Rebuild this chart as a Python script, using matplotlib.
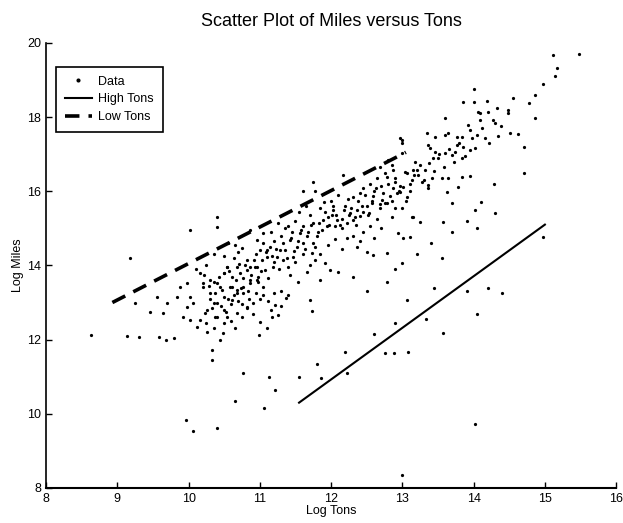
import numpy as np
import matplotlib.pyplot as plt

plt.rcParams['font.family'] = ['Liberation Sans', 'DejaVu Sans']

# scatter data (log tons, log miles)
tons = [
    8.63, 9.13, 9.30, 9.58, 9.68, 9.80, 9.18, 10.02, 10.40, 10.40,
    9.25, 9.46, 9.56, 9.64, 9.70, 9.84, 9.88, 9.92, 9.98, 9.98,
    10.02, 10.02, 10.06, 10.12, 10.16, 10.16, 10.20, 10.20, 10.26, 10.30,
    10.35, 10.35, 10.40, 10.40, 10.49, 10.49, 10.49, 10.54, 10.58, 10.61,
    10.61, 10.63, 10.68, 10.68, 10.68, 10.75, 10.77, 10.77, 10.82, 10.82,
    10.86, 10.86, 10.86, 10.96, 10.96, 10.96, 11.00, 11.05, 11.05, 11.10,
    10.21, 10.30, 10.37, 10.44, 10.49, 10.54, 10.61, 10.68, 10.72, 10.77,
    10.82, 10.86, 10.93, 10.98, 11.03, 11.07, 11.10, 11.14, 11.19, 11.24,
    11.28, 11.33, 11.35, 11.40, 11.42, 11.47, 11.52, 11.56, 11.61, 11.66,
    11.73, 11.75, 11.80, 11.82, 11.89, 11.94, 12.01, 12.03, 12.08, 12.15,
    12.22, 12.27, 12.31, 12.36, 12.41, 12.45, 12.52, 12.50, 12.57, 12.59,
    12.69, 12.71, 12.78, 12.83, 12.87, 12.92, 12.97, 13.04, 13.13, 13.20,
    12.94, 13.01, 13.11, 13.15, 12.79, 12.99, 12.79, 12.59, 12.50, 12.36,
    12.22, 12.10, 11.99, 11.85, 11.92, 11.78, 11.66, 11.54, 11.42, 11.75,
    11.61, 11.78, 12.17, 12.97, 13.00, 10.30, 10.40, 10.45, 10.55, 10.60,
    10.70, 10.75, 10.85, 10.90, 10.95, 11.00, 11.05, 11.12, 11.20, 11.30,
    11.40, 10.50, 10.60, 10.65, 10.35, 10.25, 10.90, 11.15, 11.30, 10.23,
    10.37, 10.54, 10.75, 10.82, 11.00, 11.10, 10.99, 11.17, 11.26, 11.21,
    11.37, 10.48, 10.44, 10.33, 10.33, 10.26, 11.70, 11.73, 9.96, 10.06,
    10.40, 10.65, 11.06, 11.21, 11.13, 10.77, 11.55, 11.80, 11.86, 12.20,
    12.22, 12.60, 12.76, 12.88, 12.90, 13.07, 13.08, 13.33, 13.45, 13.57,
    13.00, 14.02, 11.50, 11.55, 11.65, 11.70, 11.85, 11.90, 12.00, 12.10,
    12.20, 12.30, 12.40, 12.45, 12.55, 12.60, 12.65, 12.70, 12.75, 11.45,
    11.60, 11.75, 11.95, 12.05, 12.15, 12.25, 12.35, 12.45, 12.55, 12.65,
    11.30, 11.20, 11.15, 11.35, 11.25, 11.05, 10.95, 11.20, 11.40, 11.50,
    11.60, 11.70, 11.85, 11.95, 12.05, 12.15, 12.30, 12.40, 12.60, 12.70,
    12.85, 12.90, 13.05, 13.10, 10.10, 10.25, 10.35, 10.50, 10.65, 10.70,
    10.55, 12.50, 12.30, 12.90, 13.20, 13.40, 13.55, 13.70, 13.90, 14.10,
    14.30, 13.90, 14.05, 14.20, 14.40, 14.98, 12.69, 13.00, 13.00, 13.18,
    12.80, 12.86, 12.87, 12.79, 12.90, 13.07, 13.15, 13.22, 13.32, 13.28,
    13.36, 13.42, 13.36, 13.56, 13.64, 13.84, 13.95, 13.78, 13.63, 13.70,
    12.97, 13.01, 13.07, 13.00, 12.76, 13.14, 13.25, 13.57, 14.02, 14.05,
    13.35, 13.46, 13.60, 13.64, 13.77, 13.84, 13.77, 13.85, 13.98, 14.05,
    14.16, 13.95, 14.02, 13.74, 13.84, 13.39, 13.46, 13.36, 13.50, 13.60,
    13.70, 13.43, 13.60, 13.92, 13.85, 14.00, 14.00, 14.06, 14.09, 14.09,
    14.20, 14.19, 14.33, 14.27, 14.30, 14.34, 14.29, 14.51, 14.62, 14.71,
    14.71, 14.48, 14.48, 14.55, 14.86, 14.78, 14.86, 14.98, 15.14, 15.17,
    15.12, 15.48,
    # dense core of the band
    10.28, 10.33, 10.42, 10.47, 10.52, 10.57, 10.63, 10.66, 10.71, 10.74,
    10.79, 10.84, 10.88, 10.92, 10.97, 11.02, 11.08, 11.12, 11.17, 11.22,
    11.27, 11.32, 11.38, 11.44, 11.48, 11.53, 11.58, 11.63, 11.68, 11.72,
    11.77, 11.83, 11.87, 11.92, 11.97, 12.02, 12.07, 12.12, 12.18, 12.23,
    12.28, 12.33, 12.38, 12.43, 12.48, 12.53, 12.58, 12.63, 12.68, 12.73,
    12.80, 12.85, 12.90, 12.95, 13.10, 13.17, 13.25, 13.30, 13.38, 13.45,
    13.52, 13.58, 13.65, 13.72, 13.80, 13.88, 13.95, 14.12, 14.22, 14.38,
]
miles = [
    12.12, 12.10, 12.07, 12.08, 12.00, 12.05, 14.20, 14.96, 15.31, 15.04,
    12.99, 12.75, 13.15, 12.72, 12.99, 13.15, 13.42, 12.61, 12.88, 13.53,
    13.15, 12.53, 12.99, 12.34, 12.53, 13.80, 13.42, 13.53, 12.80, 13.26,
    12.99, 13.56, 12.61, 13.53, 13.80, 13.15, 12.80, 13.97, 13.42, 13.70,
    13.07, 14.20, 13.97, 13.34, 12.72, 14.47, 13.67, 13.26, 14.15, 12.88,
    14.96, 13.97, 13.53, 14.69, 13.97, 13.61, 14.42, 14.88, 13.42, 14.42,
    13.75, 13.61, 13.25, 13.43, 13.79, 13.97, 13.43, 13.25, 13.79, 13.43,
    13.88, 13.61, 13.97, 13.70, 14.15, 13.88, 14.24, 14.51, 13.97, 14.24,
    14.42, 14.15, 14.42, 15.05, 14.69, 14.24, 14.51, 14.87, 14.60, 14.78,
    14.33, 14.60, 14.78, 14.91, 15.23, 15.05, 15.36, 15.50, 15.23, 15.00,
    15.14, 15.41, 15.23, 15.50, 15.32, 15.45, 15.36, 15.59, 15.68, 15.86,
    15.54, 15.77, 15.68, 15.86, 16.08, 15.95, 16.13, 16.53, 16.31, 16.58,
    14.88, 14.74, 14.77, 15.31, 14.34, 14.07, 13.56, 14.29, 14.37, 14.50,
    14.74, 13.83, 13.88, 13.61, 14.07, 14.15, 13.83, 13.56, 13.75, 16.25,
    16.00, 16.00, 16.44, 17.44, 17.30, 13.10, 13.00, 12.90, 13.10, 12.95,
    13.05, 12.95, 13.10, 13.00, 13.25, 13.10, 13.20, 13.05, 13.25, 13.30,
    13.20, 12.45, 12.50, 12.30, 12.30, 12.45, 12.70, 12.80, 12.90, 12.72,
    12.62, 12.62, 12.60, 12.86, 12.48, 12.32, 12.13, 12.60, 12.67, 12.94,
    13.13, 12.18, 12.00, 11.73, 11.46, 12.20, 13.07, 12.78, 9.84, 9.54,
    9.62, 10.35, 10.16, 10.65, 11.00, 11.10, 11.00, 11.35, 10.97, 11.67,
    11.10, 12.16, 11.64, 11.64, 12.45, 13.07, 11.67, 12.56, 13.40, 12.18,
    8.36, 9.73, 15.20, 15.45, 15.60, 15.35, 15.55, 15.70, 15.75, 15.90,
    15.60, 15.85, 15.95, 16.10, 16.20, 16.00, 16.35, 16.15, 16.50, 14.90,
    15.05, 15.15, 15.30, 15.05, 15.25, 15.35, 15.10, 14.90, 15.05, 15.25,
    14.80, 14.65, 14.90, 15.00, 15.15, 14.60, 14.30, 14.10, 13.95, 14.10,
    14.30, 14.00, 14.30, 14.55, 14.70, 14.45, 14.80, 14.65, 14.75, 15.00,
    15.30, 15.55, 15.75, 16.00, 13.90, 14.00, 14.30, 14.25, 14.55, 14.35,
    14.60, 13.30, 13.70, 13.90, 14.30, 14.60, 14.20, 14.90, 15.20, 15.70,
    15.40, 13.30, 12.70, 13.40, 13.25, 14.77, 16.66, 17.39, 17.03, 16.79,
    16.85, 16.71, 16.58, 16.39, 16.25, 16.50, 16.58, 16.44, 16.58, 16.25,
    16.17, 16.36, 16.09, 16.36, 16.36, 16.39, 16.42, 16.12, 15.98, 15.69,
    15.98, 16.12, 15.85, 15.55, 15.69, 15.31, 15.18, 15.18, 15.50, 15.01,
    17.57, 17.47, 17.52, 17.57, 17.47, 17.47, 17.25, 17.20, 17.44, 17.52,
    17.44, 17.12, 17.17, 17.06, 16.90, 17.17, 17.06, 17.25, 16.90, 17.03,
    16.98, 16.90, 17.98, 17.79, 18.41, 18.40, 18.76, 18.14, 18.10, 17.92,
    18.14, 18.44, 18.25, 17.92, 17.84, 17.50, 16.20, 17.57, 17.55, 17.20,
    16.50, 18.19, 18.10, 18.52, 18.60, 18.38, 17.98, 18.90, 19.11, 19.33,
    19.68, 19.70,
    13.45, 12.85, 13.70, 13.35, 12.75, 13.85, 13.20, 13.60, 14.05, 13.40,
    14.00, 13.30, 13.75, 14.15, 13.55, 13.85, 14.35, 13.65, 14.25, 14.45,
    13.90, 14.60, 14.20, 14.75, 14.40, 14.65, 14.95, 14.45, 14.90, 15.10,
    14.50, 15.15, 14.95, 15.45, 15.10, 15.60, 15.35, 15.10, 15.50, 15.80,
    15.55, 15.30, 15.75, 15.60, 15.90, 15.40, 15.75, 16.10, 15.65, 15.95,
    16.20, 15.75, 16.35, 16.00, 16.20, 16.45, 16.70, 16.30, 16.75, 16.55,
    17.00, 16.65, 17.15, 16.80, 17.30, 16.95, 17.65, 17.70, 17.30, 17.75,
]

# fitted lines
high_x = [11.55, 15.0]
high_y = [10.3, 15.1]
low_x = [8.93, 13.05]
low_y = [13.0, 17.05]

fig = plt.figure(figsize=(6.23, 5.23), dpi=100)
ax = fig.add_axes([0.074, 0.067, 0.915, 0.851])

ax.plot(tons, miles, '.', color='black', markersize=2.6, label='Data')
ax.plot(high_x, high_y, '-', color='black', linewidth=1.5, label='High Tons')
ax.plot(low_x, low_y, '--', color='black', linewidth=2.6, dashes=(4, 2.5), label='Low Tons')

ax.set_xlim(8, 16)
ax.set_ylim(8, 20)
ax.set_xticks(range(8, 17))
ax.set_yticks(range(8, 21, 2))
ax.tick_params(direction='in', length=4, width=1, labelsize=9)
ax.spines['top'].set_visible(False)
ax.spines['right'].set_visible(False)
ax.spines['left'].set_linewidth(1.2)
ax.spines['bottom'].set_linewidth(1.5)

ax.set_title('Scatter Plot of Miles versus Tons', fontsize=13, pad=12)
ax.set_xlabel('Log Tons', fontsize=9, labelpad=0)
ax.set_ylabel('Log Miles', fontsize=9, labelpad=2)

leg = ax.legend(loc='upper left', bbox_to_anchor=(0.006, 0.96), fontsize=9,
                fancybox=False, edgecolor='black', framealpha=1,
                handlelength=2.2, handletextpad=0.5, borderpad=0.7,
                labelspacing=0.45, markerscale=1.5)
leg.get_frame().set_linewidth(1.2)

plt.savefig('out.png', dpi=100)
